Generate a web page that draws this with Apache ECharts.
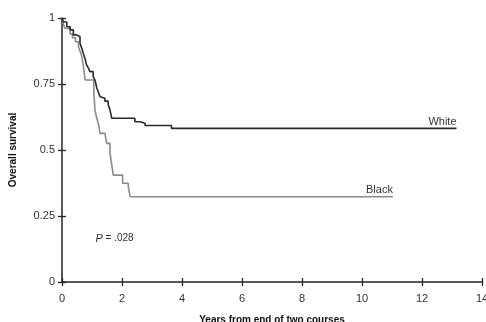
<!DOCTYPE html>
<html><head><meta charset="utf-8">
<script src="https://cdn.jsdelivr.net/npm/echarts@6/dist/echarts.min.js"></script>
<style>html,body{margin:0;padding:0;background:#fff}#c{width:486px;height:322px}</style>
</head><body><div id="c"></div>
<script>
const xTicks = [0, 2, 4, 6, 8, 10, 12, 14];
const yTicks = [0, 0.25, 0.5, 0.75, 1];
const seriesNames = ['White', 'Black'];
const whiteData = [[0,1],[0.05,0.985],[0.16,0.967],[0.27,0.955],[0.38,0.936],[0.49,0.929],[0.6,0.904],[0.66,0.885],[0.71,0.866],[0.77,0.845],[0.82,0.822],[0.88,0.81],[0.93,0.797],[1.04,0.778],[1.1,0.765],[1.16,0.735],[1.21,0.72],[1.27,0.702],[1.32,0.696],[1.43,0.685],[1.54,0.672],[1.6,0.652],[1.66,0.62],[2.43,0.607],[2.6,0.601],[2.77,0.593],[3.65,0.582],[13.15,0.582]];
const blackData = [[0,1],[0.05,0.975],[0.1,0.96],[0.27,0.94],[0.35,0.925],[0.45,0.91],[0.55,0.89],[0.6,0.875],[0.66,0.855],[0.71,0.82],[0.77,0.765],[1.06,0.72],[1.1,0.65],[1.16,0.62],[1.21,0.6],[1.27,0.563],[1.43,0.557],[1.49,0.525],[1.6,0.487],[1.66,0.443],[1.71,0.405],[2.02,0.374],[2.21,0.36],[2.27,0.323],[11.03,0.323]];
const pText = '.028';

const font = 'Liberation Sans, Arial, sans-serif';
const chart = echarts.init(document.getElementById('c'), null, {renderer: 'canvas'});
const axisCol = '#222';
const xBase = {
  type: 'value', min: xTicks[0], max: xTicks[xTicks.length - 1], interval: xTicks[1] - xTicks[0],
  splitLine: {show: false}
};
const yBase = {
  type: 'value', min: yTicks[0], max: yTicks[yTicks.length - 1], interval: yTicks[1] - yTicks[0],
  splitLine: {show: false}
};
chart.setOption({
  animation: false,
  grid: {left: 62, right: 4, top: 18, bottom: 40, containLabel: false, outerBoundsMode: 'none'},
  xAxis: [
    Object.assign({}, xBase, {
      position: 'bottom',
      axisLine: {show: true, lineStyle: {color: axisCol, width: 1.5}},
      axisTick: {show: true, length: 4, lineStyle: {color: axisCol, width: 1.3}},
      axisLabel: {color: '#333', fontSize: 11, fontFamily: font, margin: 11},
      name: 'Years from end of two courses', nameLocation: 'middle', nameGap: 33,
      nameTextStyle: {color: '#111', fontSize: 10, fontWeight: 'bold', fontFamily: font}
    }),
    Object.assign({}, xBase, {
      position: 'bottom',
      axisLine: {show: false},
      axisTick: {show: true, inside: true, length: 4, lineStyle: {color: axisCol, width: 1.3}},
      axisLabel: {show: false}
    })
  ],
  yAxis: [
    Object.assign({}, yBase, {
      position: 'left',
      axisLine: {show: true, lineStyle: {color: axisCol, width: 1.5}},
      axisTick: {show: true, length: 4, lineStyle: {color: axisCol, width: 1.3}},
      axisLabel: {color: '#333', fontSize: 11, fontFamily: font, margin: 7,
        formatter: v => String(v)},
      name: 'Overall survival', nameLocation: 'middle', nameGap: 44, nameRotate: 90,
      nameTextStyle: {color: '#111', fontSize: 10, fontWeight: 'bold', fontFamily: font}
    }),
    Object.assign({}, yBase, {
      position: 'left',
      axisLine: {show: false},
      axisTick: {show: true, inside: true, length: 4, lineStyle: {color: axisCol, width: 1.3}},
      axisLabel: {show: false}
    })
  ],
  series: [
    {name: seriesNames[0], type: 'line', step: 'end', data: whiteData, showSymbol: false,
     lineStyle: {color: '#2a2a2a', width: 1.6}, z: 3},
    {name: seriesNames[1], type: 'line', step: 'end', data: blackData, showSymbol: false,
     lineStyle: {color: '#8a8a8a', width: 1.6}, z: 2}
  ]
});

function lbl(data, name) {
  const p = chart.convertToPixel({gridIndex: 0}, data[data.length - 1]);
  return {type: 'text', x: p[0], y: p[1] - 1,
    style: {text: name, fill: '#333', font: '11px ' + font, textAlign: 'right', textVerticalAlign: 'bottom'}};
}
const pp = chart.convertToPixel({gridIndex: 0}, [1.75, 0.165]);
chart.setOption({graphic: [
  lbl(whiteData, seriesNames[0]),
  lbl(blackData, seriesNames[1]),
  {type: 'text', x: pp[0], y: pp[1],
   style: {text: '{i|P} = ' + pText, fill: '#333', font: '10px ' + font, textAlign: 'center', textVerticalAlign: 'middle',
     rich: {i: {fontStyle: 'italic', fontSize: 11, fontFamily: font, fill: '#333'}}}}
]});
</script></body></html>
